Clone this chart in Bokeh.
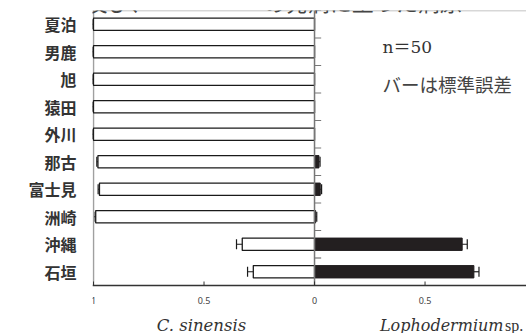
from bokeh.plotting import figure
from bokeh.models import (Range1d, FixedTicker, CustomJSTickFormatter, ColumnDataSource,
                          Whisker, TeeHead, Span, Label)
from bokeh.core.properties import value
from bokeh.embed import file_html
from bokeh.resources import INLINE

# ---- data ----
sites = ["夏泊", "男鹿", "旭", "猿田", "外川", "那古", "富士見", "洲崎", "沖縄", "石垣"]
c_sinensis = [1.0, 1.0, 1.0, 1.0, 1.0, 0.98, 0.973, 0.99, 0.327, 0.277]
c_sinensis_err = [0.005, 0.005, 0.005, 0.005, 0.005, 0.005, 0.006, 0.008, 0.026, 0.026]
lophodermium = [0.0, 0.0, 0.0, 0.0, 0.0, 0.02, 0.026, 0.005, 0.668, 0.721]
lophodermium_err = [0.0, 0.0, 0.0, 0.0, 0.0, 0.005, 0.006, 0.005, 0.023, 0.023]
x_ticks = [-1, -0.5, 0, 0.5]
title_parts = ["及び、", "の発病に至った病原"]
note_n = "n＝50"
note_err = "バーは標準誤差"
left_title = "C.  sinensis"
right_title_italic = "Lophodermium"
right_title_plain = "sp."

idx = list(range(len(sites)))
n = len(sites)
px_per_row = 27.5                     # layout: pixel height of one category row
px_per_unit = 221.0                   # layout: pixels per unit on the value axis
y_top = -0.5
y_axis = n - 0.5                      # where the bottom (value) axis sits
y_bottom = y_axis + 48 / px_per_row   # frame extends below the axis for its labels
x_start = -1 - 1 / px_per_unit

p = figure(width=526, height=333, output_backend="svg", toolbar_location=None,
           x_range=Range1d(x_start, 0.959), y_range=Range1d(y_bottom, y_top),
           min_border_left=92, min_border_right=0, min_border_top=10, min_border_bottom=0)
p.xgrid.visible = False
p.ygrid.visible = False
p.xaxis.visible = False
p.outline_line_color = None
p.background_fill_color = "white"
p.border_fill_color = "white"

left_src = ColumnDataSource(dict(
    y=idx,
    left=[-v for v in c_sinensis],
    lo=[-(v + e) for v, e in zip(c_sinensis, c_sinensis_err)],
    hi=[-(v - e) for v, e in zip(c_sinensis, c_sinensis_err)],
))
rk = [i for i in idx if lophodermium[i] > 0]
right_src = ColumnDataSource(dict(y=idx, right=lophodermium))
right_err_src = ColumnDataSource(dict(
    y=rk,
    lo=[lophodermium[i] - lophodermium_err[i] for i in rk],
    hi=[lophodermium[i] + lophodermium_err[i] for i in rk],
))

# left axis line (from top row boundary down to the value axis)
p.segment(x0=[x_ticks[0]], x1=[x_ticks[0]], y0=[y_top], y1=[y_axis],
          line_color="#a0a0a0", line_width=1.5)

p.hbar(y="y", left="left", right=0, height=0.45, source=left_src,
       fill_color="white", line_color="#1a1a1a", line_width=1.3)
p.hbar(y="y", left=0, right="right", height=0.45, source=right_src,
       fill_color="#231f20", line_color="#231f20", line_width=1)

for src in (left_src, right_err_src):
    w = Whisker(base="y", lower="lo", upper="hi", dimension="width", source=src,
                line_color="#1a1a1a", line_width=1.2,
                lower_head=TeeHead(size=10, line_color="#1a1a1a", line_width=1.2),
                upper_head=TeeHead(size=10, line_color="#1a1a1a", line_width=1.2))
    p.add_layout(w)

# center line with ticks at category boundaries
p.segment(x0=[0], x1=[0], y0=[y_top], y1=[y_axis], line_color="#777777", line_width=1.5)
bounds = [i - 0.5 for i in idx]
p.segment(x0=[0] * len(bounds), x1=[0.03] * len(bounds), y0=bounds, y1=bounds,
          line_color="#777777", line_width=1.2)
# top frame line
p.add_layout(Span(location=y_top, dimension="width", line_color="#b0b0b0", line_width=1.5))

# value axis at the bottom: line, inward ticks and labels
p.add_layout(Span(location=y_axis, dimension="width", line_color="#333333", line_width=1.3))
p.segment(x0=x_ticks, x1=x_ticks, y0=[y_axis] * len(x_ticks),
          y1=[y_axis - 4 / px_per_row] * len(x_ticks), line_color="#333333", line_width=1)
p.text(x=x_ticks, y=[y_axis + 15 / px_per_row] * len(x_ticks),
       text=[f"{abs(t):g}" for t in x_ticks], text_font=value("Noto Sans"),
       text_font_size="9px", text_color="#444444", text_align="center",
       text_baseline="middle")

# category axis on the left (labels only)
p.yaxis.ticker = FixedTicker(ticks=idx)
p.yaxis.formatter = CustomJSTickFormatter(args=dict(names=sites), code="return names[tick];")
p.yaxis.major_tick_in = 0
p.yaxis.major_tick_out = 0
p.yaxis.minor_tick_line_color = None
p.yaxis.axis_line_color = None
p.yaxis.major_label_text_font = "Noto Sans CJK JP"
p.yaxis.major_label_text_font_style = "bold"
p.yaxis.major_label_text_font_size = "16px"
p.yaxis.major_label_text_color = "#333333"
p.yaxis.major_label_standoff = 16

cjk = "'Noto Sans CJK JP'"
serif = "'DejaVu Serif', 'Noto Sans CJK JP'"
serif2 = "'Liberation Serif', 'DejaVu Serif'"

# clipped title at the top
p.add_layout(Label(x=-1.036, y=-0.85, text=title_parts[0], text_font=cjk,
                   text_font_size="22px", text_color="#444444", text_baseline="alphabetic"))
p.add_layout(Label(x=-0.23, y=-0.85, text=title_parts[1], text_font=cjk,
                   text_font_size="22px", text_color="#444444", text_baseline="alphabetic"))

p.add_layout(Label(x=0.308, y=0.81, text=note_n, text_font=serif, text_font_size="17px",
                   text_color="#333333", text_baseline="middle"))
p.add_layout(Label(x=0.308, y=2.155, text=note_err, text_font=cjk, text_font_size="18.5px",
                   text_color="#444444", text_baseline="middle"))

yb = y_axis + 40 / px_per_row
p.add_layout(Label(x=-0.5, y=yb, text=left_title, text_font=serif,
                   text_font_style="italic", text_font_size="16.5px", text_color="#333333",
                   text_align="center", text_baseline="middle"))
p.add_layout(Label(x=0.855, y=yb, text=right_title_italic, text_font=serif,
                   text_font_style="italic", text_font_size="16px", text_color="#333333",
                   text_align="right", text_baseline="middle"))
p.add_layout(Label(x=0.862, y=yb, text=right_title_plain, text_font=serif2,
                   text_font_size="16px", text_color="#333333", text_align="left",
                   text_baseline="middle"))

open("out.html", "w").write(file_html(p, INLINE))
